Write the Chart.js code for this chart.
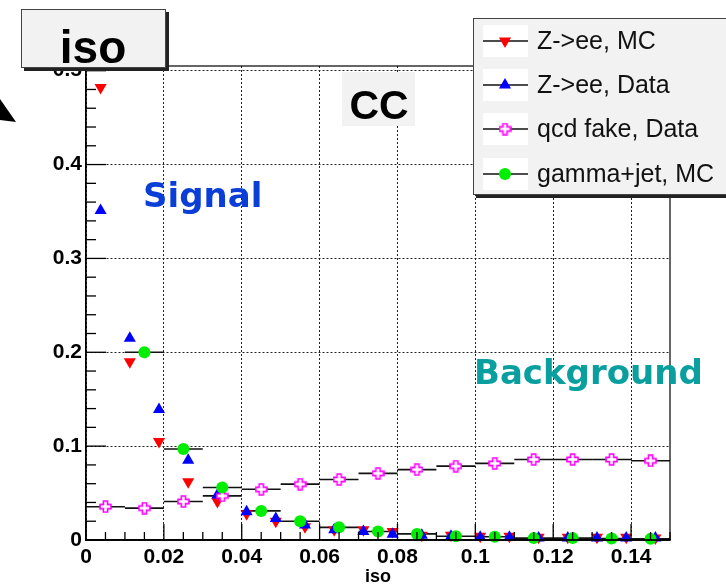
<!DOCTYPE html>
<html><head><meta charset="utf-8">
<script src="https://cdn.jsdelivr.net/npm/chart.js@4/dist/chart.umd.min.js"></script>
<style>html,body{margin:0;padding:0;background:#fff;}</style>
</head><body>
<canvas id="c" width="726" height="584"></canvas>
<script>
// ---- data ----
const seriesNames = ["Z->ee, MC", "Z->ee, Data", "qcd fake, Data", "gamma+jet, MC"];
const xNarrow = [0.00375,0.01125,0.01875,0.02625,0.03375,0.04125,0.04875,0.05625,0.06375,0.07125,0.07875,0.08625,0.09375,0.10125,0.10875,0.11625,0.12375,0.13125,0.13875,0.14625];
const zeeMC   = [0.482,0.190,0.105,0.062,0.041,0.028,0.020,0.014,0.011,0.011,0.009,0.005,0.005,0.004,0.004,0.003,0.003,0.003,0.003,0.002];
const zeeData = [0.351,0.215,0.139,0.085,0.048,0.030,0.023,0.016,0.011,0.009,0.006,0.005,0.004,0.003,0.003,0.002,0.002,0.002,0.002,0.002];
const xWide    = [0.005,0.015,0.025,0.035,0.045,0.055,0.065,0.075,0.085,0.095,0.105,0.115,0.125,0.135,0.145];
const qcdFake  = [0.0355,0.034,0.041,0.047,0.054,0.0595,0.0645,0.071,0.075,0.0787,0.0816,0.0858,0.0858,0.0858,0.0844];
const gammaJet = [null,0.200,0.097,0.056,0.031,0.020,0.0135,0.009,0.0065,0.004,0.0035,0.002,0.002,0.0015,0.0012];
const wideBinHalf = 0.005;
const xTickLabels = ["0","0.02","0.04","0.06","0.08","0.1","0.12","0.14"];
const yTickLabels = ["0","0.1","0.2","0.3","0.4","0.5"];
const xTickValues = [0,0.02,0.04,0.06,0.08,0.1,0.12,0.14];
const yTickValues = [0,0.1,0.2,0.3,0.4,0.5];

// ---- marker images ----
function openCross(size, color){
  const c = document.createElement('canvas'); c.width = size; c.height = size;
  const g = c.getContext('2d');
  const p = 1, a = size*0.34, b = size*0.66, s = size - p;
  g.beginPath();
  g.moveTo(a,p); g.lineTo(b,p); g.lineTo(b,a); g.lineTo(s,a); g.lineTo(s,b); g.lineTo(b,b);
  g.lineTo(b,s); g.lineTo(a,s); g.lineTo(a,b); g.lineTo(p,b); g.lineTo(p,a); g.lineTo(a,a); g.closePath();
  g.fillStyle = '#fff'; g.fill();
  g.strokeStyle = color; g.lineWidth = 1.6; g.stroke();
  return c;
}
const crossImg = openCross(13, '#ff00ff');

const pts = (xs, ys) => xs.map((x,i) => ({x, y: ys[i]}));

const datasets = [
  {label: seriesNames[0], data: pts(xNarrow, zeeMC), pointStyle:'triangle', rotation:180, pointRadius:7,
   backgroundColor:'#ff0000', borderColor:'#ff0000', borderWidth:0, order:4, clip:false},
  {label: seriesNames[1], data: pts(xNarrow, zeeData), pointStyle:'triangle', rotation:0, pointRadius:7,
   backgroundColor:'#0000ff', borderColor:'#0000ff', borderWidth:0, order:3, clip:false},
  {label: seriesNames[2], data: pts(xWide, qcdFake), pointStyle: crossImg, pointRadius:6,
   backgroundColor:'#ff00ff', borderColor:'#ff00ff', borderWidth:0, order:2, clip:false, xHalf: wideBinHalf},
  {label: seriesNames[3], data: pts(xWide, gammaJet), pointStyle:'circle', pointRadius:6,
   backgroundColor:'#00ee00', borderColor:'#00ee00', borderWidth:0, order:1, clip:false, xHalf: wideBinHalf}
];

const errBars = {
  id:'errBars',
  beforeDatasetsDraw(chart){
    const {ctx, scales:{x, y}} = chart;
    ctx.save();
    ctx.strokeStyle = '#111'; ctx.lineWidth = 1.6;
    chart.data.datasets.forEach(ds => {
      if (!ds.xHalf) return;
      ds.data.forEach(p => {
        if (p.y === null || p.y === undefined) return;
        const py = y.getPixelForValue(p.y);
        ctx.beginPath();
        ctx.moveTo(x.getPixelForValue(p.x - ds.xHalf), py);
        ctx.lineTo(x.getPixelForValue(p.x + ds.xHalf), py);
        ctx.stroke();
      });
    });
    ctx.restore();
  }
};

const decor = {
  id:'decor',
  afterDraw(chart){
    const {ctx, chartArea:a, scales:{x, y}} = chart;
    ctx.save();
    // frame
    ctx.strokeStyle = '#000'; ctx.lineWidth = 1.2;
    ctx.strokeRect(a.left, a.top, a.right - a.left, a.bottom - a.top);
    ctx.lineWidth = 1.6;
    ctx.beginPath(); ctx.moveTo(a.left, a.bottom); ctx.lineTo(a.right, a.bottom); ctx.stroke();
    // ticks (inward)
    ctx.lineWidth = 1.3;
    for (let v = 0; v <= 0.5001; v += 0.02) {
      const py = y.getPixelForValue(v);
      const major = Math.abs(v/0.1 - Math.round(v/0.1)) < 1e-6;
      ctx.beginPath(); ctx.moveTo(a.left, py); ctx.lineTo(a.left + (major ? 20 : 10), py); ctx.stroke();
    }
    for (let v = 0; v <= 0.1501; v += 0.005) {
      const px = x.getPixelForValue(v);
      const major = Math.abs(v/0.02 - Math.round(v/0.02)) < 1e-6;
      ctx.beginPath(); ctx.moveTo(px, a.bottom); ctx.lineTo(px, a.bottom - (major ? 16 : 8)); ctx.stroke();
    }
    // CC label
    ctx.fillStyle = '#f2f2f2'; ctx.fillRect(342, 72, 73, 54);
    ctx.fillStyle = '#000'; ctx.font = 'bold 41px "Liberation Sans", Arial, sans-serif';
    ctx.textAlign = 'center'; ctx.textBaseline = 'alphabetic';
    ctx.fillText('CC', 379, 119);
    // Signal / Background
    ctx.font = 'bold 34px "DejaVu Sans", sans-serif';
    ctx.textAlign = 'left';
    ctx.fillStyle = '#0a3ed6'; ctx.fillText('Signal', 143, 207);
    ctx.fillStyle = '#0a9f9f'; ctx.fillText('Background', 474, 384);
    // legend box
    ctx.fillStyle = '#222'; ctx.fillRect(476, 21, 260, 177);
    ctx.fillStyle = '#f2f2f2'; ctx.fillRect(473, 18, 260, 177);
    ctx.strokeStyle = '#444'; ctx.lineWidth = 1; ctx.strokeRect(473.5, 18.5, 260, 176);
    const ys = [41, 85, 129, 174];
    chart.data.datasets.forEach((ds, i) => {
      const cy = ys[i];
      ctx.fillStyle = '#fff'; ctx.fillRect(483, cy - 16, 45, 32);
      ctx.strokeStyle = '#111'; ctx.lineWidth = 1.5;
      ctx.beginPath(); ctx.moveTo(483, cy); ctx.lineTo(528, cy); ctx.stroke();
      ctx.fillStyle = ds.backgroundColor; ctx.strokeStyle = ds.borderColor;
      Chart.helpers.drawPoint(ctx, {pointStyle: ds.pointStyle, radius: ds.pointRadius, rotation: ds.rotation || 0, borderWidth: 0}, 505, cy);
      ctx.fillStyle = '#111'; ctx.font = '25px "Liberation Sans", Arial, sans-serif';
      ctx.textAlign = 'left'; ctx.textBaseline = 'middle';
      ctx.fillText(ds.label, 537, cy + 1);
    });
    // title box
    ctx.fillStyle = '#222'; ctx.fillRect(24, 12, 145, 59);
    ctx.fillStyle = '#f2f2f2'; ctx.fillRect(21, 9, 145, 59);
    ctx.strokeStyle = '#444'; ctx.lineWidth = 1; ctx.strokeRect(21.5, 9.5, 144, 58);
    ctx.fillStyle = '#000'; ctx.font = 'bold 46px "Liberation Sans", Arial, sans-serif';
    ctx.textAlign = 'center'; ctx.textBaseline = 'alphabetic';
    ctx.fillText('iso', 93, 63);
    // arrow head fragment
    ctx.fillStyle = '#000';
    ctx.beginPath(); ctx.moveTo(0, 99); ctx.lineTo(16, 122); ctx.lineTo(0, 120); ctx.closePath(); ctx.fill();
    ctx.restore();
  }
};

const tickFont = {family:'"Liberation Sans", Arial, sans-serif', size:21, weight:'bold'};

new Chart(document.getElementById('c'), {
  type:'scatter',
  data:{datasets},
  plugins:[errBars, decor],
  options:{
    responsive:false, animation:false, devicePixelRatio:1,
    layout:{padding:{left:0, right:56, top:66, bottom:0}},
    plugins:{legend:{display:false}, tooltip:{enabled:false}},
    scales:{
      x:{type:'linear', min:0, max:0.15,
         afterFit: s => { s.height = 44; },
         afterBuildTicks: s => { s.ticks = xTickValues.map(v => ({value:v})); },
         ticks:{stepSize:0.02, includeBounds:false, color:'#000', font:tickFont, padding:5, maxRotation:0,
                callback:(v, i) => xTickLabels[i]},
         grid:{color:'#222', lineWidth:1, drawTicks:false},
         border:{display:true, color:'#000', width:1.5, dash:[2,2]},
         title:{display:true, text:'iso', color:'#000', font:{family:'"Liberation Sans", Arial, sans-serif', size:18, weight:'bold', lineHeight:0.8}, padding:{top:0,bottom:0}}
      },
      y:{type:'linear', min:0, max:0.505,
         afterFit: s => { s.width = 86; },
         afterBuildTicks: s => { s.ticks = yTickValues.map(v => ({value:v})); },
         ticks:{stepSize:0.1, includeBounds:false, color:'#000', font:tickFont, padding:4,
                callback:(v, i) => yTickLabels[i]},
         grid:{color:'#222', lineWidth:1, drawTicks:false},
         border:{display:true, color:'#000', width:1.5, dash:[2,2]}
      }
    }
  }
});
</script>
</body></html>
